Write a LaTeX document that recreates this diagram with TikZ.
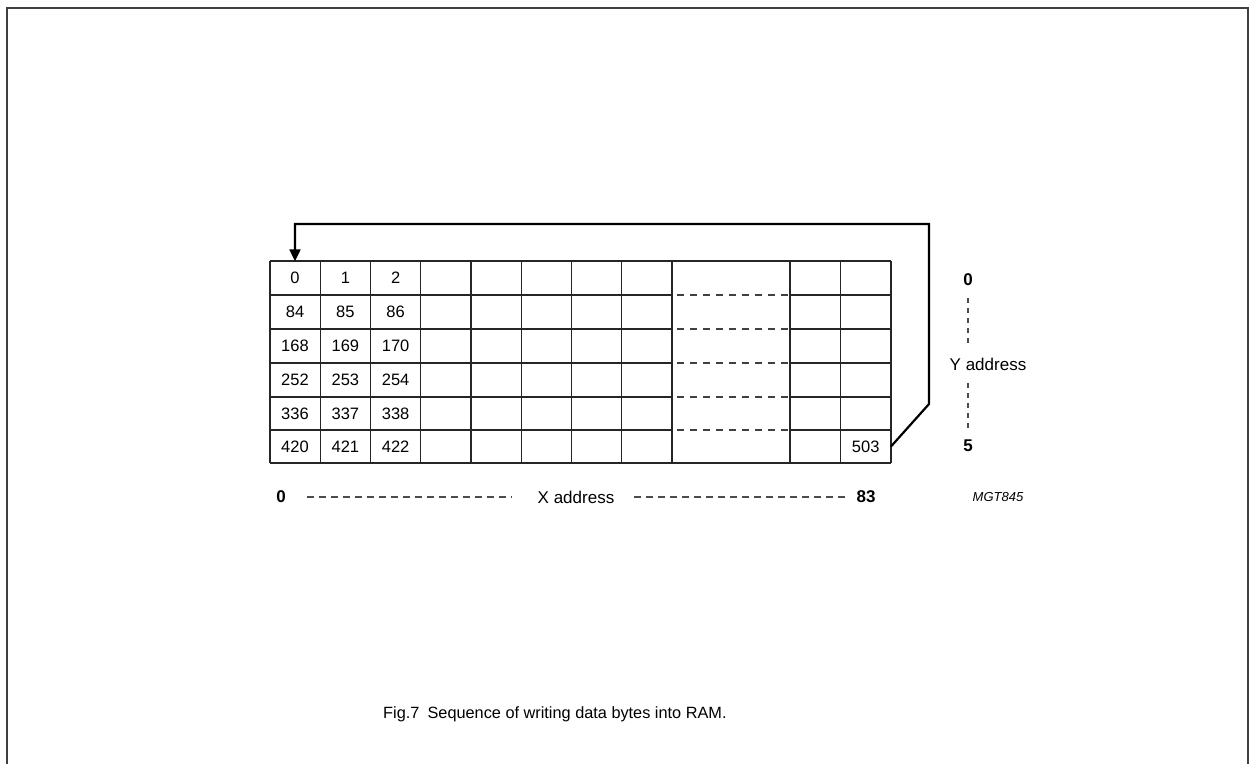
\documentclass[tikz,border=0pt]{standalone}
\usepackage{fontspec}
\setmainfont{Liberation Sans}
\usetikzlibrary{arrows.meta}
\begin{document}
\begin{tikzpicture}[x=1pt,y=-1pt,
  gridline/.style={line width=1.3pt,black!85},
  dashgrid/.style={line width=1.2pt,black!75,dash pattern=on 7pt off 6pt},
  axisdash/.style={line width=1.1pt,black!70,dash pattern=on 7pt off 5pt},
  ydash/.style={line width=1.1pt,black!70,dash pattern=on 5pt off 5pt},
  frameline/.style={line width=2pt,black!75},
  cell/.style={inner sep=0pt,minimum width=50pt,minimum height=33pt,font=\fontsize{16.5}{18}\selectfont},
  lbl/.style={inner sep=0pt,font=\fontsize{17}{19}\selectfont},
  blbl/.style={inner sep=0pt,font=\fontsize{17}{19}\selectfont\bfseries},
  seqarrow/.style={line width=2.2pt,-{Triangle[length=12pt,width=11pt]}}]
\useasboundingbox (0,0) rectangle (1249,764);
% frame
\draw[frameline] (7,764) -- (7,8) -- (1248,8) -- (1248,764);
% grid
\foreach \y in {261,295,329,363,397,430,463}{
  \draw[gridline] (270,\y) -- (672,\y);
  \draw[gridline] (790,\y) -- (891,\y);
}
\draw[gridline] (672,261) -- (790,261);
\draw[gridline] (672,463) -- (790,463);
\foreach \y in {295,329,363,397,430}{
  \draw[dashgrid] (677,\y) -- (788,\y);
}
\foreach \x in {270,320.25,370.5,420.75,471,521.25,571.5,621.75,672,790,840.5,891}{
  \draw[gridline] (\x,261) -- (\x,463);
}
% cell labels
\node[cell] (c0) at (295,278) {0};
\node[cell] (c1) at (345.4,278) {1};
\node[cell] (c2) at (395.6,278) {2};
\node[cell] (c84) at (295,312) {84};
\node[cell] (c85) at (345.4,312) {85};
\node[cell] (c86) at (395.6,312) {86};
\node[cell] (c168) at (295,346) {168};
\node[cell] (c169) at (345.4,346) {169};
\node[cell] (c170) at (395.6,346) {170};
\node[cell] (c252) at (295,380) {252};
\node[cell] (c253) at (345.4,380) {253};
\node[cell] (c254) at (395.6,380) {254};
\node[cell] (c336) at (295,413.5) {336};
\node[cell] (c337) at (345.4,413.5) {337};
\node[cell] (c338) at (395.6,413.5) {338};
\node[cell] (c420) at (295,446.5) {420};
\node[cell] (c421) at (345.4,446.5) {421};
\node[cell] (c422) at (395.6,446.5) {422};
\node[cell] (c503) at (865.75,446.5) {503};
% sequence arrow
\coordinate (bendA) at (929,404);
\draw[seqarrow] (c503.east) -- (bendA) -- (929,224) -| (c0.north);
% Y address
\node[blbl] (y0) at (968,280) {0};
\node[lbl] (yaddr) at (988,364) {Y address};
\node[blbl] (y5) at (968,446) {5};
\draw[ydash] (968,298) -- (968,346);
\draw[ydash] (968,383) -- (968,428);
% X address
\node[blbl] (x0) at (281,497) {0};
\node[lbl] (xaddr) at (576,497) {X address};
\node[blbl] (x83) at (866,497) {83};
\draw[axisdash] (307,497) -- (512,497);
\draw[axisdash] (634,497) -- (845,497);
\node[inner sep=0pt,font=\fontsize{13}{15}\selectfont\itshape] (mgt) at (998,497) {MGT845};
% caption
\node[inner sep=0pt,anchor=west,font=\fontsize{16.3}{19}\selectfont] (cap) at (383,714) {Fig.7\hspace{0.5em}Sequence of writing data bytes into RAM.};
\end{tikzpicture}
\end{document}
